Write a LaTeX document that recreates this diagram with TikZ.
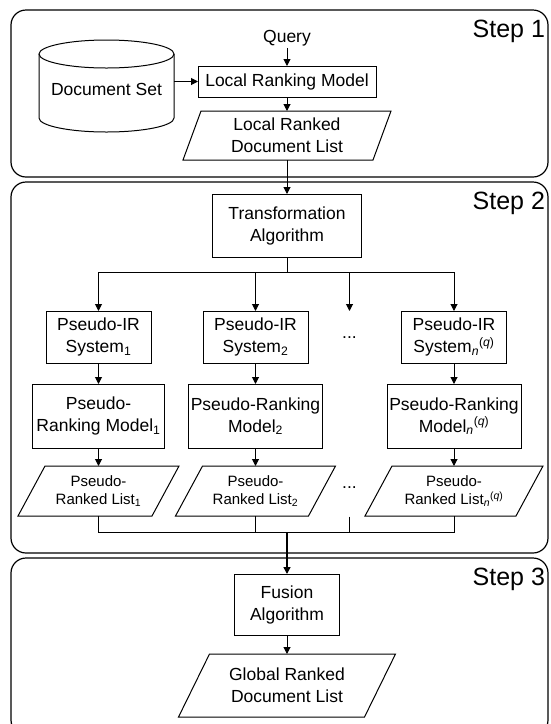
\documentclass[tikz,border=0pt]{standalone}
\usepackage{fontspec}
\setmainfont{Liberation Sans}
\usetikzlibrary{arrows.meta}
\newcommand{\drawplg}[2]{\draw[ln] ([xshift=#2]#1.north west) -- ([xshift=#2]#1.north east) -- ([xshift=-#2]#1.south east) -- ([xshift=-#2]#1.south west) -- cycle;}
\newcommand{\nqsub}{\textsubscript{\textit{n}}\textsuperscript{(\textit{q})}}
\begin{document}
\begin{tikzpicture}[x=1pt,y=-1pt,
  every node/.style={font=\fontsize{17.5}{22}\selectfont, inner sep=0pt, outer sep=0pt},
  box/.style={draw, line width=1pt, align=center},
  plist/.style={align=center},
  smalltext/.style={font=\fontsize{15}{18.5}\selectfont},
  arr/.style={-{Triangle[length=7pt,width=7pt]}, line width=1pt},
  ln/.style={line width=1pt},
  stage/.style={draw, line width=1.2pt, rounded corners=15pt},
  steplabel/.style={font=\fontsize{25}{30}\selectfont, anchor=base east}
]
\useasboundingbox (0,0) rectangle (550,724);

% stage containers
\draw[stage] (11,10) rectangle (548,177);
\draw[stage] (11,182) rectangle (548,553);
\draw[stage] (11,558) rectangle (548,735);
\node[steplabel] (s1) at (545,37) {Step 1};
\node[steplabel] (s2) at (545,209) {Step 2};
\node[steplabel] (s3) at (545,585) {Step 3};

% ---- Step 1
\node[inner sep=2pt] (query) at (287,38) {Query};
\node[box, minimum width=178pt, minimum height=31pt] (lrm) at (287,81.5) {Local Ranking Model};
\draw[ln] (39,54) -- (39,118) arc[start angle=180,end angle=360,x radius=67.5pt,y radius=14pt] -- (174,54);
\draw[ln] (106.5,54) ellipse[x radius=67.5pt,y radius=14pt];
\node[minimum width=135pt] (ds) at (106.5,89) {Document Set};
\node[plist, minimum width=190pt, minimum height=49pt] (lrdl) at (287,135.5) {Local Ranked\\Document List};
\drawplg{lrdl}{9pt}
\draw[arr] (query.south) -- (lrm.north);
\draw[arr] (ds.east |- lrm.west) -- (lrm.west);
\draw[arr] (lrm.south) -- (lrdl.north);

% ---- Step 2
\node[box, minimum width=149pt, minimum height=63pt] (ta) at (287,225.5) {Transformation\\Algorithm};
\draw[arr] (lrdl.south) -- (ta.north);
\coordinate (busT) at (287,272);
\coordinate (dotsT) at (349.5,311);
\node[box, minimum width=105pt, minimum height=52pt] (pir1) at (98.5,337) {Pseudo-IR\\System\textsubscript{1}};
\node[box, minimum width=105pt, minimum height=52pt] (pir2) at (255.5,337) {Pseudo-IR\\System\textsubscript{2}};
\node[box, minimum width=105pt, minimum height=52pt] (pirn) at (454,337) {Pseudo-IR\\System\nqsub};
\node (dots1) at (349.5,338) {...};
\draw[ln] (ta.south) -- (busT);
\draw[arr] (busT) -| (pir1.north);
\draw[arr] (busT) -| (pir2.north);
\draw[arr] (busT) -| (dotsT);
\draw[arr] (busT) -| (pirn.north);

\node[box, minimum width=132pt, minimum height=64pt] (prm1) at (98.5,416) {Pseudo-\\Ranking Model\textsubscript{1}};
\node[box, minimum width=134pt, minimum height=64pt] (prm2) at (255.5,416) {Pseudo-Ranking\\Model\textsubscript{2}};
\node[box, minimum width=134pt, minimum height=64pt] (prmn) at (454,416) {Pseudo-Ranking\\Model\nqsub};
\draw[arr] (pir1.south) -- (prm1.north);
\draw[arr] (pir2.south) -- (prm2.north);
\draw[arr] (pirn.south) -- (prmn.north);

\node[plist, smalltext, minimum width=134pt, minimum height=50pt] (list1) at (98.5,491) {Pseudo-\\Ranked List\textsubscript{1}};
\node[plist, smalltext, minimum width=133pt, minimum height=50pt] (list2) at (255.5,491) {Pseudo-\\Ranked List\textsubscript{2}};
\node[plist, smalltext, minimum width=151pt, minimum height=50pt] (listn) at (454,491) {Pseudo-\\Ranked List\nqsub};
\drawplg{list1}{13.5pt}
\drawplg{list2}{13.5pt}
\drawplg{listn}{13.5pt}
\node (dots2) at (349.5,488) {...};
\draw[arr] (prm1.south) -- (list1.north);
\draw[arr] (prm2.south) -- (list2.north);
\draw[arr] (prmn.south) -- (listn.north);

\coordinate (busB) at (287,532);
\coordinate (dotsB) at (349.5,516.5);
\draw[ln] (list1.south) |- (listn.south |- busB) -- (listn.south);
\draw[ln] (list2.south) -- (list2.south |- busB);
\draw[ln] (dotsB) -- (dotsB |- busB);

% ---- Step 3
\node[box, minimum width=104.5pt, minimum height=61pt] (fus) at (287,604.5) {Fusion\\Algorithm};
\node[plist, minimum width=186pt, minimum height=63pt] (glob) at (287,685.5) {Global Ranked\\Document List};
\drawplg{glob}{15.5pt}
\draw[arr, line width=1.5pt] (busB) -- (fus.north);
\draw[arr] (fus.south) -- (glob.north);
\end{tikzpicture}
\end{document}
